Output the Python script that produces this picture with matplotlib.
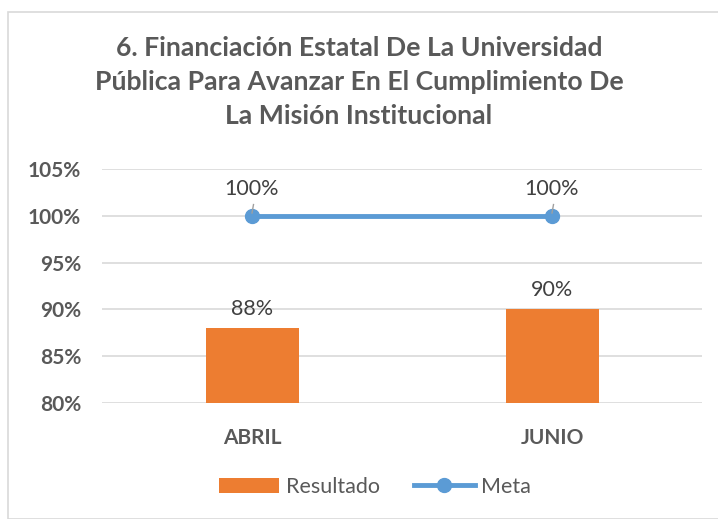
import matplotlib
matplotlib.use("Agg")
import matplotlib.pyplot as plt
from matplotlib.patches import Rectangle

categories = ["ABRIL", "JUNIO"]
resultado = [88, 90]
meta = [100, 100]
yticks = [80, 85, 90, 95, 100, 105]

plt.rcParams['font.family'] = ['Lato', 'DejaVu Sans']
gray = "#595959"
fig = plt.figure(figsize=(7.18, 5.19), dpi=100)
fig.patches.append(Rectangle((8/718, 0), 1, 1 - 12/519, transform=fig.transFigure,
                             fill=False, edgecolor="#d9d9d9", lw=1.2))
ax = fig.add_axes([102/718, 1 - 403/519, 600/718, 234/519])
x = list(range(len(categories)))
bars = ax.bar(x, [r - 80 for r in resultado], bottom=80, width=0.31, color="#ed7d31", zorder=2, label="Resultado")
line, = ax.plot(x, meta, color="#5b9bd5", lw=3.5, marker="o", ms=10, zorder=3, label="Meta")
for xi, r in zip(x, resultado):
    ax.text(xi, r + 1.0, f"{r}%", ha="center", va="bottom", fontsize=15.5, color="#404040")
for xi, m in zip(x, meta):
    ax.plot([xi, xi + 0.005], [m + 0.3, m + 1.2], color="#a0a0a0", lw=1, zorder=4)
    ax.text(xi, m + 1.8, f"{m}%", ha="center", va="bottom", fontsize=15.5, color="#404040")
ax.set_xlim(-0.5, 1.5)
ax.set_ylim(80, 105)
ax.set_yticks(yticks)
ax.set_yticklabels([f"{t}%" for t in yticks], fontsize=15, fontweight="bold", color=gray)
ax.set_xticks(x)
ax.set_xticklabels(categories, fontsize=15, fontweight="bold", color=gray)
ax.tick_params(axis='y', length=0, pad=15)
ax.tick_params(axis='x', length=0, pad=18)
ax.grid(axis="y", color="#d9d9d9", lw=1.2, zorder=0)
for s in ax.spines.values():
    s.set_visible(False)
fig.suptitle("6. Financiación Estatal De La Universidad\nPública Para Avanzar En El Cumplimiento De\nLa Misión Institucional",
             y=1 - 36/519, fontsize=19.2, fontweight="bold", color=gray, linespacing=1.5, va="top")
leg = fig.legend([bars, line], ["Resultado", "Meta"], loc="center", bbox_to_anchor=(375/718, 1 - 487/519),
                 ncol=2, frameon=False, fontsize=15.5, handlelength=2.8, columnspacing=1.6, handletextpad=0.3)
for t in leg.get_texts():
    t.set_color(gray)
fig.savefig("out.png", dpi=100)
